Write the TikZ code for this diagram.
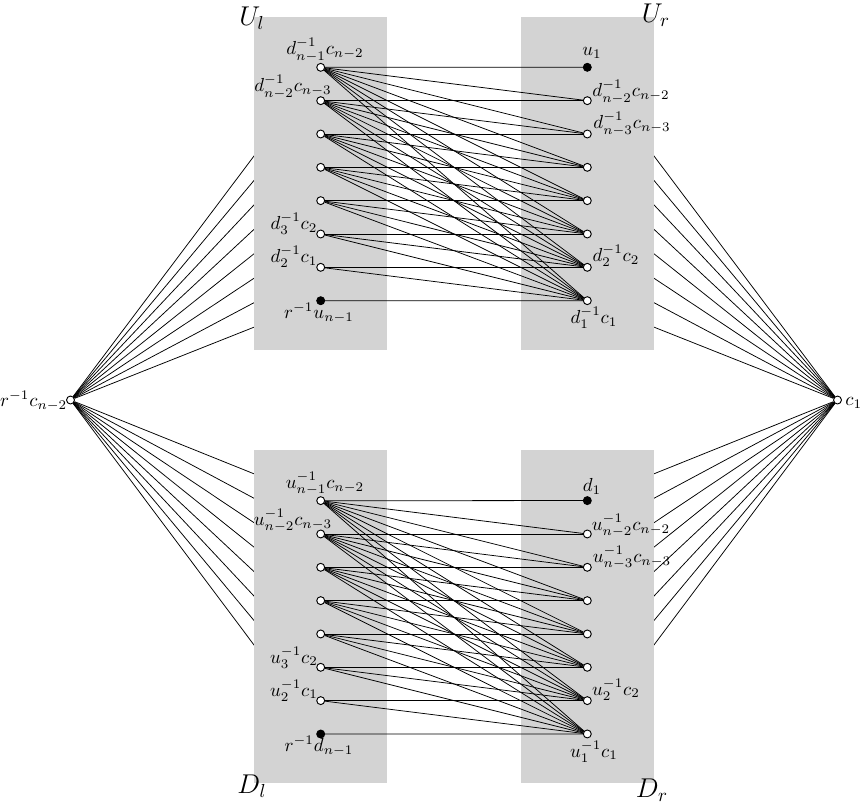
\documentclass[tikz,border=0pt]{standalone}
\usetikzlibrary{calc}
\definecolor{blockgray}{RGB}{211,211,211}
\pgfdeclarelayer{fanlayer}
\pgfdeclarelayer{boxlayer}
\pgfsetlayers{fanlayer,boxlayer,main}
\tikzset{
  hollowv/.style={circle, draw, fill=white, inner sep=0pt, minimum size=4.2pt, line width=0.5pt},
  filledv/.style={circle, draw, fill=black, inner sep=0pt, minimum size=4.2pt, line width=0.5pt},
  lbl/.style={inner sep=0pt},
  blockname/.style={inner sep=0pt, font=\Large}
}

\begin{document}
\begin{tikzpicture}[x=0.53pt, y=-0.53pt]
  \useasboundingbox (0,0) rectangle (862,804);
  \node[hollowv] (cl) at (70.5,400) {};
  \node[hollowv] (cr) at (837.5,400) {};
  \node[lbl, anchor=east] (clt) at (67.5,401) {$r^{-1}c_{n-2}$};
  \node[lbl, anchor=west] (crt) at (845,403) {$c_1$};
  \foreach \b/\o/\p/\q in {U/0/d/u, D/433.3/u/d}{
    \begin{pgfonlayer}{boxlayer}
      \fill[blockgray] (254,17+\o) rectangle (387,350+\o);
      \fill[blockgray] (521,17+\o) rectangle (654,350+\o);
    \end{pgfonlayer}
    \foreach \i in {1,...,7}
      \node[hollowv] (\b l\i) at (320.7,34+33.33*\i+\o) {};
    \foreach \i in {2,...,8}
      \node[hollowv] (\b r\i) at (587.3,34+33.33*\i+\o) {};
    \node[filledv] (\b l8) at (320.7,300.7+\o) {};
    \node[filledv] (\b r1) at (587.3,67.3+\o) {};
    \foreach \i in {1,...,8}{
      \foreach \j in {\i,...,8}
        \draw (\b l\i) -- (\b r\j);
      \begin{pgfonlayer}{fanlayer}
        \draw (cl) -- (\b l\i);
        \draw (cr) -- (\b r\i);
      \end{pgfonlayer}
    }
    \node[lbl] (\b l1t) at (325,50+\o) {$\p^{-1}_{n-1}c_{n-2}$};
    \node[lbl] (\b l2t) at (293,87+\o) {$\p^{-1}_{n-2}c_{n-3}$};
    \node[lbl] (\b l6t) at (294,224+\o) {$\p^{-1}_3c_2$};
    \node[lbl] (\b l7t) at (294,257+\o) {$\p^{-1}_2c_1$};
    \node[lbl] (\b l8t) at (319,313+\o) {$r^{-1}\q_{n-1}$};
    \node[lbl] (\b r1t) at (592,53+\o) {$\q_1$};
    \node[lbl] (\b r2t) at (631,92+\o) {$\p^{-1}_{n-2}c_{n-2}$};
    \node[lbl] (\b r3t) at (632,124+\o) {$\p^{-1}_{n-3}c_{n-3}$};
    \node[lbl] (\b r7t) at (616,256+\o) {$\p^{-1}_2c_2$};
    \node[lbl] (\b r8t) at (594,318+\o) {$\p^{-1}_1c_1$};
  }
  \node[blockname] (Ult) at (252,18) {$U_l$};
  \node[blockname] (Urt) at (656,15) {$U_r$};
  \node[blockname] (Dlt) at (252,786) {$D_l$};
  \node[blockname] (Drt) at (652,790) {$D_r$};
\end{tikzpicture}
\end{document}
